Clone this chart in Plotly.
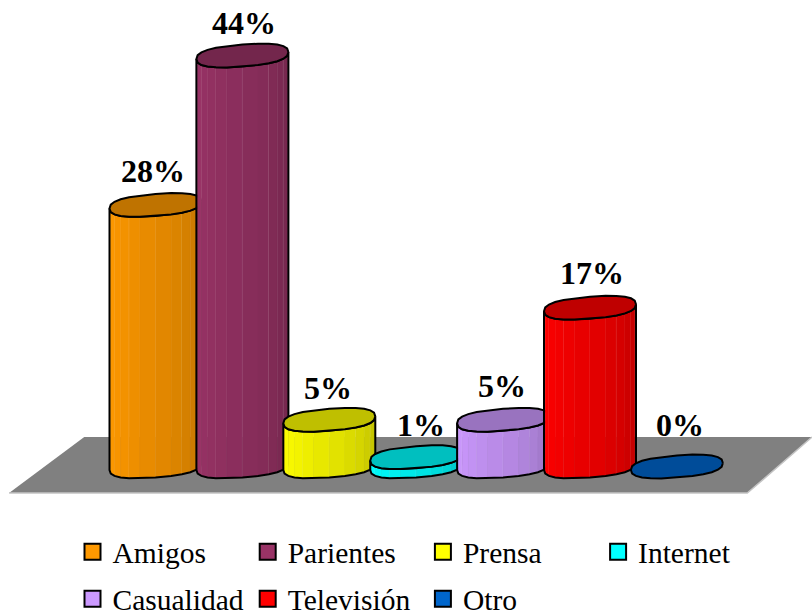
import numpy as np
import plotly.graph_objects as go

categories = ["Amigos", "Parientes", "Prensa", "Internet", "Casualidad", "Televisión", "Otro"]
values = [28, 44, 5, 1, 5, 17, 0]
labels = ["28%", "44%", "5%", "1%", "5%", "17%", "0%"]
colors = [(255, 153, 0), (153, 51, 102), (255, 255, 0), (0, 255, 255),
          (204, 153, 255), (255, 0, 0), (0, 102, 204)]
label_dx = [-0.03, 0.02, -0.01, 0.05, -0.01, 0.02, 0.04]
label_dy = [15, 14, 13, 13, 15, 16, 23]
row1 = categories[:4]
row2 = categories[4:]
floor_x = [-1.685, -0.82, 7.555, 6.81, -1.685]
floor_y = [-2.85, 3.15, 3.15, -2.85, -2.85]

W, H = 812, 612
PX_X, PX_Y = 86.9, 9.34
X0, Y0 = 155.5, 466.5
RX, RY, SHEAR = 46 / PX_X, 11 / PX_Y, 3.5 / PX_Y
ROUND = 0.8
N = 12


def rgb(c, k=1.0):
    return "rgb(%d,%d,%d)" % tuple(round(v * k) for v in c)


def ring(cx, cy, t):
    ct, st = np.cos(t), np.sin(t)
    ex = np.sign(ct) * np.abs(ct) ** ROUND
    ey = np.sign(st) * np.abs(st) ** ROUND
    return cx + RX * ex, cy + RY * ey + SHEAR * ex


fig = go.Figure()
fig.add_trace(go.Scatter(x=floor_x, y=floor_y, mode="lines", fill="toself", fillcolor="#808080",
                         line=dict(color="#808080", width=0), showlegend=False, hoverinfo="skip"))
fig.add_trace(go.Scatter(x=floor_x[2:4] + floor_x[4:5], y=floor_y[2:4] + floor_y[4:5], mode="lines",
                         line=dict(color="#c4c4c4", width=1.5), showlegend=False, hoverinfo="skip"))

lower = np.linspace(np.pi, 2 * np.pi, N + 1)   # left to right along the front edge
whole = np.linspace(0, 2 * np.pi, 2 * N + 1)

for i, (name, v, c) in enumerate(zip(categories, values, colors)):
    if v > 0:
        bx, by = ring(i, 0, lower)
        tx, ty = ring(i, v, lower)
        for s in range(N):
            f = (s + 0.5) / N
            k = 1.0 - 0.27 * f ** 1.4
            xs = [tx[s], tx[s + 1], bx[s + 1], bx[s], tx[s]]
            ys = [ty[s], ty[s + 1], by[s + 1], by[s], ty[s]]
            fig.add_trace(go.Scatter(x=xs, y=ys, mode="lines", fill="toself", fillcolor=rgb(c, k),
                                     line=dict(color=rgb(c, k), width=0.5),
                                     showlegend=False, hoverinfo="skip"))
            if s % 2 == 1:
                fig.add_trace(go.Scatter(x=[tx[s + 1], bx[s + 1]], y=[ty[s + 1], by[s + 1]], mode="lines",
                                         line=dict(color="rgba(255,255,255,0.22)", width=1),
                                         showlegend=False, hoverinfo="skip"))
        ox = list(tx) + list(bx[::-1]) + [tx[0]]
        oy = list(ty) + list(by[::-1]) + [ty[0]]
        fig.add_trace(go.Scatter(x=ox, y=oy, mode="lines", line=dict(color="black", width=2),
                                 showlegend=False, hoverinfo="skip"))
    px_, py_ = ring(i, v, whole)
    fig.add_trace(go.Scatter(x=px_, y=py_, mode="lines", fill="toself", fillcolor=rgb(c, 0.75),
                             line=dict(color="black", width=2), showlegend=False, hoverinfo="skip"))

for i, name in enumerate(categories):
    fig.add_trace(go.Scatter(x=[None], y=[None], mode="markers", name=name,
                             legend="legend" if name in row1 else "legend2",
                             marker=dict(symbol="square", size=16, color=rgb(colors[i]),
                                         line=dict(color="black", width=2))))
    fig.add_annotation(x=i + label_dx[i], y=values[i], yshift=label_dy[i], text="<b>%s</b>" % labels[i],
                       showarrow=False, yanchor="bottom", xanchor="center", borderpad=0,
                       font=dict(family="Liberation Serif", size=32, color="black"))


def legend_cfg(cy):
    return dict(orientation="h", x=72.5 / W, xanchor="left", y=1 - cy / H, yanchor="middle",
                entrywidth=130.2, entrywidthmode="pixels", itemwidth=30, traceorder="normal",
                bgcolor="rgba(0,0,0,0)", borderwidth=0, itemclick=False, itemdoubleclick=False,
                font=dict(family="Liberation Serif", size=29.5, color="black"))


fig.update_layout(
    width=W, height=H, autosize=False,
    margin=dict(l=0, r=0, t=0, b=0, pad=0, autoexpand=False),
    paper_bgcolor="white", plot_bgcolor="white",
    xaxis=dict(visible=False, range=[-X0 / PX_X, (W - X0) / PX_X], fixedrange=True),
    yaxis=dict(visible=False, range=[(Y0 - H) / PX_Y, Y0 / PX_Y], fixedrange=True),
    legend=legend_cfg(552), legend2=legend_cfg(599),
    hovermode=False,
)
fig.write_html("out.html", config=dict(displayModeBar=False),
               post_script="document.body.style.margin='0';document.documentElement.style.overflow='hidden';")
